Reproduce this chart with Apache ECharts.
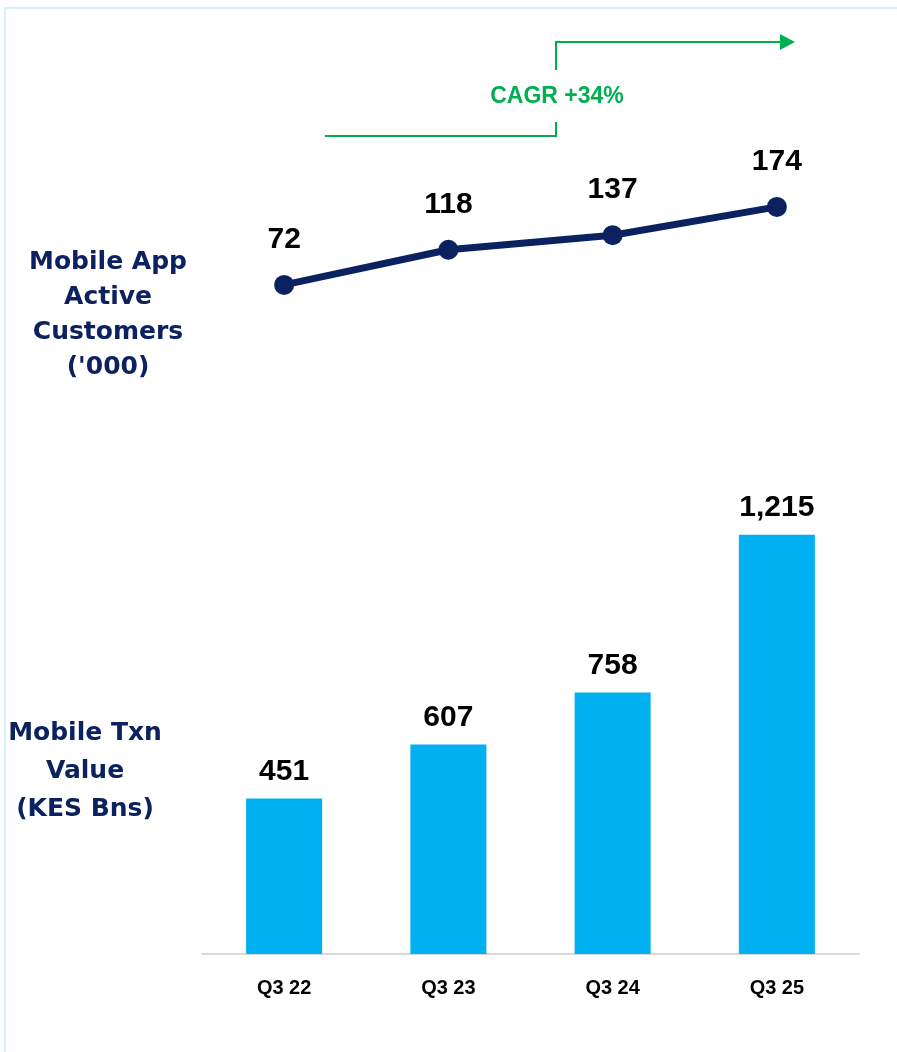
<!DOCTYPE html>
<html>
<head>
<meta charset="utf-8">
<script src="https://cdn.jsdelivr.net/npm/echarts@6/dist/echarts.min.js"></script>
<style>
  html, body { margin: 0; padding: 0; background: #ffffff; }
  #chart { width: 897px; height: 1052px; }
</style>
</head>
<body>
<div id="chart"></div>
<script>
const quarters = ['Q3 22', 'Q3 23', 'Q3 24', 'Q3 25'];
const appCustomers = [72, 118, 137, 174];
const txnValue = [451, 607, 758, 1215];
const cagrText = 'CAGR +34%';

const navy = '#0b2160';
const blue = '#00b0f0';
const green = '#00b050';
const narrow = '"Liberation Sans Narrow", "Liberation Sans", Arial, sans-serif';
const wide = '"DejaVu Sans", Verdana, sans-serif';

const chart = echarts.init(document.getElementById('chart'));

function leftTitle(lines, cx, topY, gap) {
    return lines.map((t, i) => ({
        type: 'text',
        style: {
            text: t, x: cx, y: topY + i * gap,
            align: 'center', verticalAlign: 'middle',
            fill: navy, font: 'bold 25px ' + wide
        }
    }));
}

const option = {
    backgroundColor: '#ffffff',
    animation: false,
    grid: [
        { left: 202, right: 38, top: 187, bottom: 1052 - 340 },
        { left: 202, right: 38, top: 471, bottom: 1052 - 954 }
    ],
    xAxis: [
        { type: 'category', gridIndex: 0, data: quarters, show: false },
        {
            type: 'category', gridIndex: 1, data: quarters,
            axisTick: { show: false },
            axisLine: { lineStyle: { color: '#d9d9d9', width: 2 } },
            axisLabel: { color: '#000', fontFamily: narrow, fontWeight: 'bold', fontSize: 20, margin: 24 }
        }
    ],
    yAxis: [
        { type: 'value', gridIndex: 0, min: 0, max: 200, show: false },
        { type: 'value', gridIndex: 1, min: 0, max: 1400, show: false }
    ],
    series: [
        {
            type: 'bar', xAxisIndex: 1, yAxisIndex: 1, data: txnValue,
            barWidth: 76,
            itemStyle: { color: blue },
            label: {
                show: true, position: 'top', distance: 12,
                color: '#000', fontFamily: narrow, fontWeight: 'bold', fontSize: 30,
                formatter: p => p.value.toLocaleString('en-US')
            }
        },
        {
            type: 'line', xAxisIndex: 0, yAxisIndex: 0, data: appCustomers,
            symbol: 'circle', symbolSize: 20,
            lineStyle: { color: navy, width: 7 },
            itemStyle: { color: navy },
            label: {
                show: true, position: 'top', distance: 20,
                color: '#000', fontFamily: narrow, fontWeight: 'bold', fontSize: 30
            }
        }
    ],
    graphic: [
        {
            type: 'rect', shape: { x: 5, y: 8, width: 897, height: 1060 },
            style: { fill: 'none', stroke: '#d5f1fb', lineWidth: 2 }, silent: true
        },
        {
            type: 'polyline', shape: { points: [[325, 136], [556, 136], [556, 122]] },
            style: { stroke: green, lineWidth: 2, fill: 'none' }
        },
        {
            type: 'polyline', shape: { points: [[556, 70], [556, 42], [782, 42]] },
            style: { stroke: green, lineWidth: 2, fill: 'none' }
        },
        {
            type: 'polygon', shape: { points: [[780, 34], [795, 42], [780, 50]] },
            style: { fill: green }
        },
        {
            type: 'text',
            style: {
                text: cagrText, x: 557, y: 97, align: 'center', verticalAlign: 'middle',
                fill: green, font: 'bold 23px ' + narrow
            }
        },
        ...leftTitle(['Mobile App', 'Active', 'Customers', "('000)"], 108, 262, 35),
        ...leftTitle(['Mobile Txn', 'Value', '(KES Bns)'], 85, 733, 38)
    ]
};

chart.setOption(option);
</script>
</body>
</html>
